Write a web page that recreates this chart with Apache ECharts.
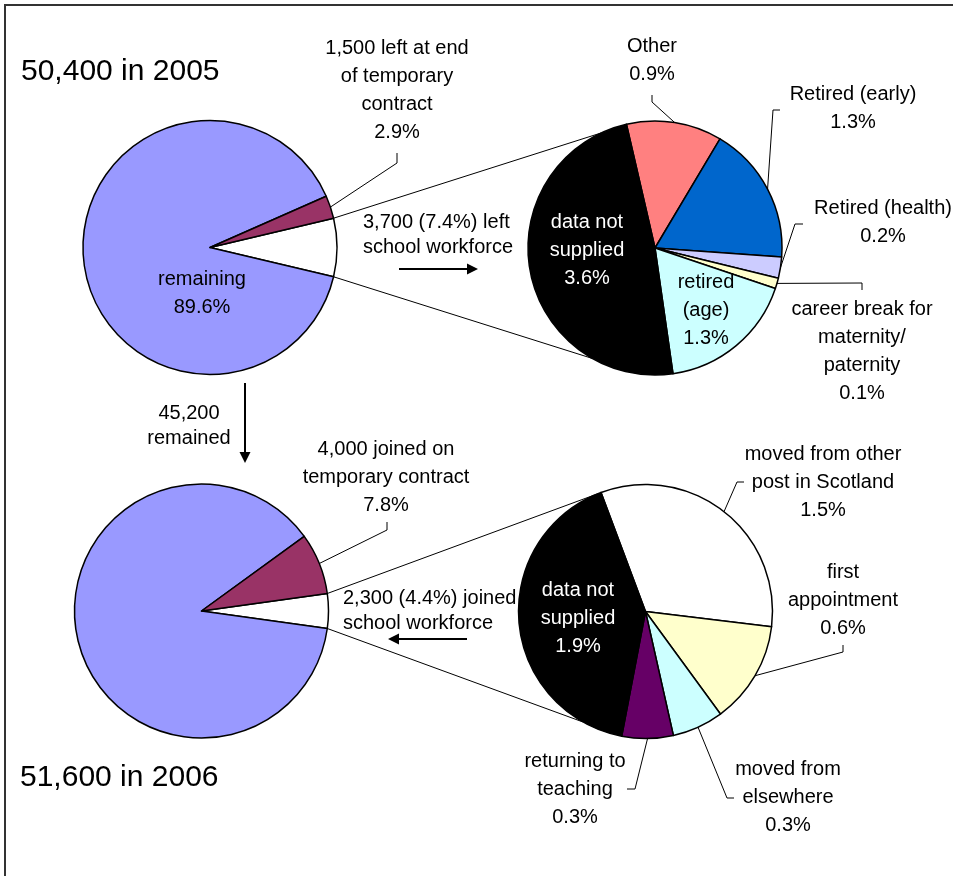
<!DOCTYPE html>
<html>
<head>
<meta charset="utf-8">
<script src="https://cdn.jsdelivr.net/npm/echarts@6/dist/echarts.min.js"></script>
<style>
html,body{margin:0;padding:0;background:#ffffff;}
#chart{width:953px;height:876px;}
</style>
</head>
<body>
<div id="chart"></div>
<script>
// ---------- DATA ----------
const names2005 = ['3,700 left school workforce', 'remaining', '1,500 left at end\nof temporary\ncontract'];
const values2005 = [7.4, 89.6, 2.9];

const leaverNames = ['Other', 'Retired (early)', 'Retired (health)', 'career break for\nmaternity/\npaternity', 'retired\n(age)', 'data not\nsupplied'];
const leaverValues = [0.9, 1.3, 0.2, 0.1, 1.3, 3.6];

const names2006 = ['2,300 joined school workforce', 'remaining', '4,000 joined on\ntemporary contract'];
const values2006 = [4.4, 87.8, 7.8];

const joinerNames = ['moved from other\npost in Scotland', 'first\nappointment', 'moved from\nelsewhere', 'returning to\nteaching', 'data not\nsupplied'];
const joinerValues = [1.5, 0.6, 0.3, 0.3, 1.9];

const headcountTexts = ['50,400 in 2005', '51,600 in 2006'];
const flowTexts = ['3,700 (7.4%) left\nschool workforce', '45,200\nremained', '2,300 (4.4%) joined\nschool workforce'];

// ---------- STYLE / LAYOUT ----------
const FONT = '"Liberation Sans", Arial, sans-serif';
const colors2005 = ['#FFFFFF', '#9999FF', '#993366'];
const leaverColors = ['#FF8080', '#0066CC', '#CCCCFF', '#FFFFCC', '#CCFFFF', '#000000'];
const colors2006 = ['#FFFFFF', '#9999FF', '#993366'];
const joinerColors = ['#FFFFFF', '#FFFFCC', '#CCFFFF', '#660066', '#000000'];

function sumOf(a) { return a.reduce((s, v) => s + v, 0); }

const pies = [
  { id: 'p2005', names: names2005, values: values2005, colors: colors2005,
    center: [210, 247.5], r: 127, startAngle: values2005[0] / sumOf(values2005) * 180,
    labels: {
      1: { x: 202, y: 293 },
      2: { x: 397, y: 90, leader: [[397, 163], [397, 153]] }
    } },
  { id: 'leavers', names: leaverNames, values: leaverValues, colors: leaverColors,
    center: [655, 248], r: 127, startAngle: 103,
    labels: {
      0: { x: 652, y: 60, leader: [[652, 102], [652, 95]] },
      1: { x: 853, y: 108, leader: [[773, 110], [780, 110]] },
      2: { x: 883, y: 222, leader: [[795, 224], [803, 224]] },
      3: { x: 862, y: 351, leader: [[862, 283], [862, 290]] },
      4: { x: 706, y: 310 },
      5: { x: 587, y: 250, color: '#FFFFFF' }
    } },
  { id: 'p2006', names: names2006, values: values2006, colors: colors2006,
    center: [201.5, 611], r: 127, startAngle: values2006[0] / sumOf(values2006) * 180,
    labels: {
      2: { x: 386, y: 477, leader: [[387, 530], [387, 522]] }
    } },
  { id: 'joiners', names: joinerNames, values: joinerValues, colors: joinerColors,
    center: [645.5, 611.5], r: 127, startAngle: 110.5,
    labels: {
      0: { x: 823, y: 482, leader: [[737, 482], [744, 482]] },
      1: { x: 843, y: 600, leader: [[843, 652], [843, 645]] },
      2: { x: 788, y: 797, leader: [[727, 798], [734, 798]] },
      3: { x: 575, y: 789, leader: [[635, 789], [627, 789]] },
      4: { x: 578, y: 618, color: '#FFFFFF' }
    } }
];

// connector lines: [from pie, angle on it] -> [to pie, angle on it]
const connectors = [
  { from: 0, fromAngle: 'start0', to: 1, toAngle: 115 },
  { from: 0, fromAngle: 'end0', to: 1, toAngle: -119.6 },
  { from: 2, fromAngle: 'start0', to: 3, toAngle: 112 },
  { from: 2, fromAngle: 'end0', to: 3, toAngle: -119.6 }
];

function sliceAngles(values, startAngle) {
  const total = sumOf(values);
  let a = startAngle;
  return values.map(v => {
    const span = v / total * 360;
    const s = a;
    a -= span;
    return { start: s, end: a, mid: s - span / 2 };
  });
}
function polar(center, r, deg) {
  const t = deg * Math.PI / 180;
  return [center[0] + r * Math.cos(t), center[1] - r * Math.sin(t)];
}

const graphics = [];
// frame
graphics.push({ type: 'rect', shape: { x: 5, y: 5, width: 1000, height: 1000 },
  style: { fill: 'none', stroke: '#333333', lineWidth: 2 }, silent: true });

// leader lines
pies.forEach(p => {
  const ang = sliceAngles(p.values, p.startAngle);
  Object.keys(p.labels).forEach(k => {
    const L = p.labels[k];
    if (!L.leader) return;
    const edge = polar(p.center, p.r, ang[+k].mid);
    graphics.push({ type: 'polyline', shape: { points: [edge].concat(L.leader) },
      style: { stroke: '#000', lineWidth: 1, fill: 'none' }, silent: true, z: 10 });
  });
});

// connectors
connectors.forEach(c => {
  const pf = pies[c.from], pt = pies[c.to];
  const ang = sliceAngles(pf.values, pf.startAngle);
  const fa = c.fromAngle === 'start0' ? ang[0].start : ang[0].end;
  const a = polar(pf.center, pf.r, fa);
  const b = polar(pt.center, pt.r, c.toAngle);
  graphics.push({ type: 'line', shape: { x1: a[0], y1: a[1], x2: b[0], y2: b[1] },
    style: { stroke: '#000', lineWidth: 1 }, silent: true, z: 1 });
});

// headcounts
graphics.push({ type: 'text', x: 21, y: 72, silent: true,
  style: { text: headcountTexts[0], fontSize: 30, fontFamily: FONT, fill: '#000', align: 'left', verticalAlign: 'middle' } });
graphics.push({ type: 'text', x: 20, y: 778, silent: true,
  style: { text: headcountTexts[1], fontSize: 30, fontFamily: FONT, fill: '#000', align: 'left', verticalAlign: 'middle' } });

// flow texts
graphics.push({ type: 'text', x: 363, y: 210, silent: true,
  style: { text: flowTexts[0], fontSize: 20, lineHeight: 25, fontFamily: FONT, fill: '#000', align: 'left', verticalAlign: 'top' } });
graphics.push({ type: 'text', x: 189, y: 401, silent: true,
  style: { text: flowTexts[1], fontSize: 20, lineHeight: 25, fontFamily: FONT, fill: '#000', align: 'center', verticalAlign: 'top' } });
graphics.push({ type: 'text', x: 343, y: 586, silent: true,
  style: { text: flowTexts[2], fontSize: 20, lineHeight: 25, fontFamily: FONT, fill: '#000', align: 'left', verticalAlign: 'top' } });

// arrows
function arrow(x1, y1, x2, y2) {
  const dx = x2 - x1, dy = y2 - y1, len = Math.hypot(dx, dy);
  const ux = dx / len, uy = dy / len, hl = 11, hw = 5.5;
  const bx = x2 - ux * hl, by = y2 - uy * hl;
  graphics.push({ type: 'line', shape: { x1: x1, y1: y1, x2: bx, y2: by },
    style: { stroke: '#000', lineWidth: 2 }, silent: true });
  graphics.push({ type: 'polygon', shape: { points: [[x2, y2], [bx - uy * hw, by + ux * hw], [bx + uy * hw, by - ux * hw]] },
    style: { fill: '#000' }, silent: true });
}
arrow(399, 269, 478, 269);
arrow(245, 383, 245, 463);
arrow(467, 639, 388, 639);

const option = {
  backgroundColor: '#ffffff',
  animation: false,
  graphic: { elements: graphics },
  series: pies.map(p => ({
    type: 'pie',
    id: p.id,
    center: p.center,
    radius: p.r,
    startAngle: p.startAngle,
    clockwise: true,
    silent: true,
    animation: false,
    avoidLabelOverlap: false,
    minAngle: 0,
    itemStyle: { borderColor: '#000', borderWidth: 1.5 },
    emphasis: { disabled: true },
    label: {
      show: true,
      position: 'outside',
      formatter: params => params.name + '\n' + Number(params.value).toFixed(1) + '%',
      fontFamily: FONT,
      fontSize: 20,
      lineHeight: 28,
      color: '#000',
      align: 'center'
    },
    labelLine: { show: false },
    labelLayout: params => {
      const L = p.labels[params.dataIndex];
      if (!L) return {};
      return { x: L.x, y: L.y, align: 'center', verticalAlign: 'middle' };
    },
    data: p.values.map((v, i) => ({
      value: v,
      name: p.names[i],
      itemStyle: { color: p.colors[i] },
      label: { show: p.labels[i] != null, color: (p.labels[i] && p.labels[i].color) || '#000' }
    }))
  }))
};

const chart = echarts.init(document.getElementById('chart'), null, { renderer: 'canvas', width: 953, height: 876 });
chart.setOption(option);
</script>
</body>
</html>
